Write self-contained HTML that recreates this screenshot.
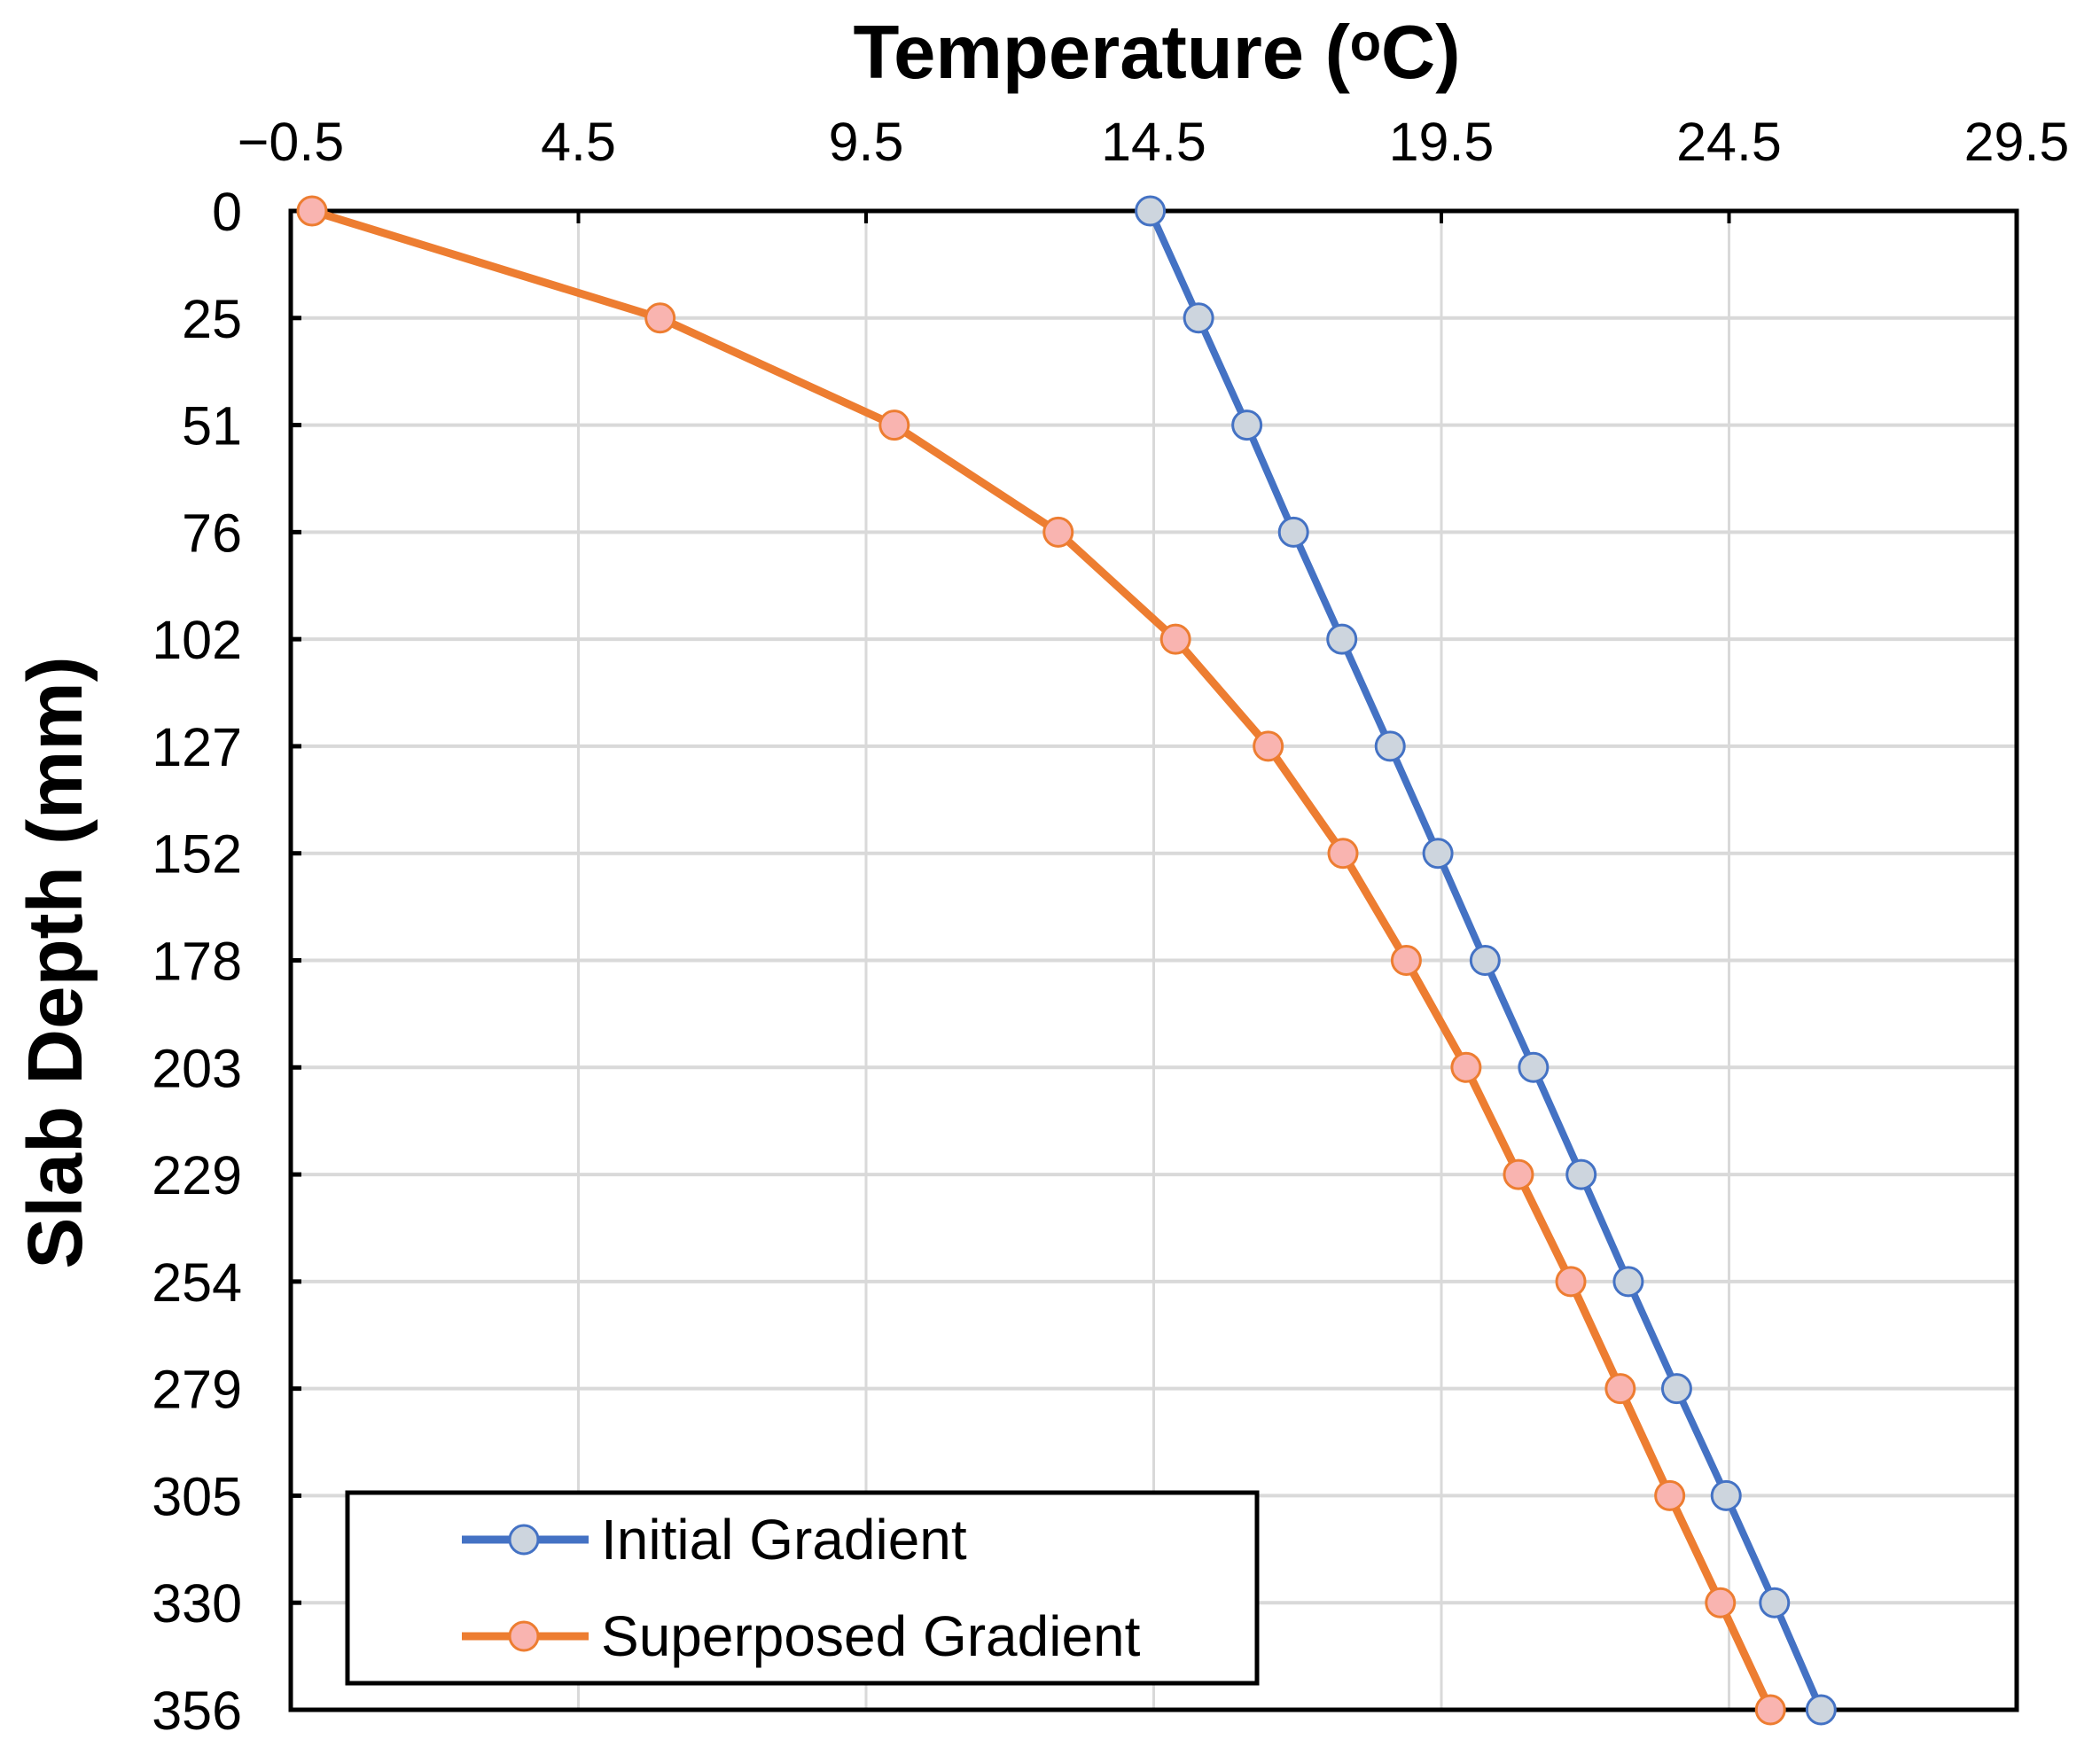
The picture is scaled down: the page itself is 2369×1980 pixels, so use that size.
<!DOCTYPE html>
<html><head><meta charset="utf-8"><style>
html,body{margin:0;padding:0;background:#fff;}
svg{display:block;font-family:"Liberation Sans",Arial,sans-serif;}
</style></head><body>
<svg id="chart" width="2369" height="1980" viewBox="0 0 2369 1980">
<g id="grid"></g>
<g id="ticks"></g>
<rect x="328" y="238" width="1947" height="1691" fill="none" stroke="#000" stroke-width="5"/>
<g id="series"></g>
<text x="1305" y="88" text-anchor="middle" font-size="85" font-weight="bold">Temperature (ᵒC)</text>
<text transform="translate(92,1086) rotate(-90)" text-anchor="middle" font-size="87" font-weight="bold">Slab Depth (mm)</text>
<g>
<rect x="392" y="1684" width="1026" height="215" fill="#fff" stroke="#000" stroke-width="5"/>
<g>
<line x1="521" y1="1737" x2="664" y2="1737" stroke="#4472c4" stroke-width="9"/>
<circle cx="591" cy="1737" r="16" fill="#cdd5de" stroke="#4472c4" stroke-width="3"/>
<text x="678" y="1759" font-size="64">Initial Gradient</text>
</g>
<g>
<line x1="521" y1="1846" x2="664" y2="1846" stroke="#ed7d31" stroke-width="9"/>
<circle cx="591" cy="1846" r="16" fill="#f9b4b0" stroke="#ed7d31" stroke-width="3"/>
<text x="678" y="1868" font-size="64">Superposed Gradient</text>
</g>
</g>
</svg>
<script>
const depths = [0,25.4,50.8,76.2,101.6,127,152.4,177.8,203.2,228.6,254,279.4,304.8,330.2,355.6];
const depthLabels = ["0","25","51","76","102","127","152","178","203","229","254","279","305","330","356"];
const initialTemps = [14.44,15.28,16.12,16.93,17.77,18.61,19.44,20.26,21.10,21.93,22.75,23.59,24.45,25.29,26.1];
const superposedTemps = [-0.13,5.92,9.99,12.84,14.88,16.49,17.79,18.89,19.93,20.84,21.75,22.61,23.47,24.35,25.22];
const xTicks = [-0.5,4.5,9.5,14.5,19.5,24.5,29.5];
const xTickLabels = ["\u22120.5","4.5","9.5","14.5","19.5","24.5","29.5"];

const L=328,R=2275,T=238,B=1929;
const xMin=-0.5,xMax=29.5,yMin=0,yMax=355.6;
function sx(v){return L+(v-xMin)/(xMax-xMin)*(R-L);}
function sy(v){return T+(v-yMin)/(yMax-yMin)*(B-T);}
const NS="http://www.w3.org/2000/svg";
function mk(tag,attrs,parent){const e=document.createElementNS(NS,tag);for(const k in attrs)e.setAttribute(k,attrs[k]);parent.appendChild(e);return e;}
const grid=document.getElementById('grid'),ticks=document.getElementById('ticks'),series=document.getElementById('series');

xTicks.forEach((v,i)=>{
  const x=sx(v);
  if(i>0&&i<xTicks.length-1){
    const g=mk('line',{x1:x,y1:T,x2:x,y2:B,stroke:'#d9d9d9','stroke-width':3},grid);
    
    
    const tk=mk('line',{x1:x,y1:T,x2:x,y2:T+14,stroke:'#000','stroke-width':4},grid);
    
    
  }
  const t=mk('text',{x:x,y:181,'text-anchor':'middle','font-size':61},ticks);
  t.textContent=xTickLabels[i];
  
  
});
depths.forEach((d,i)=>{
  const y=sy(d);
  if(i>0&&i<depths.length-1){
    const g=mk('line',{x1:L,y1:y,x2:R,y2:y,stroke:'#d9d9d9','stroke-width':4},grid);
    
    
    const tk=mk('line',{x1:L,y1:y,x2:L+12,y2:y,stroke:'#000','stroke-width':5},grid);
    
    
  }
  const t=mk('text',{x:273,y:y+22,'text-anchor':'end','font-size':61},ticks);
  t.textContent=depthLabels[i];
  
  
});
function drawSeries(vals,color,fill,width,name){
  const g=mk('g',{},series);
  
  
  const pts=vals.map((v,i)=>sx(v)+','+sy(depths[i])).join(' ');
  const pl=mk('polyline',{points:pts,fill:'none',stroke:color,'stroke-width':width,'stroke-linejoin':'round'},g);
  
  
  vals.forEach((v,i)=>{
    const c=mk('circle',{cx:sx(v),cy:sy(depths[i]),r:16,fill:fill,stroke:color,'stroke-width':3},g);
    
    
  });
}
drawSeries(initialTemps,'#4472c4','#cdd5de',8,'initial-gradient');
drawSeries(superposedTemps,'#ed7d31','#f9b4b0',9,'superposed-gradient');
</script>
</body></html>
